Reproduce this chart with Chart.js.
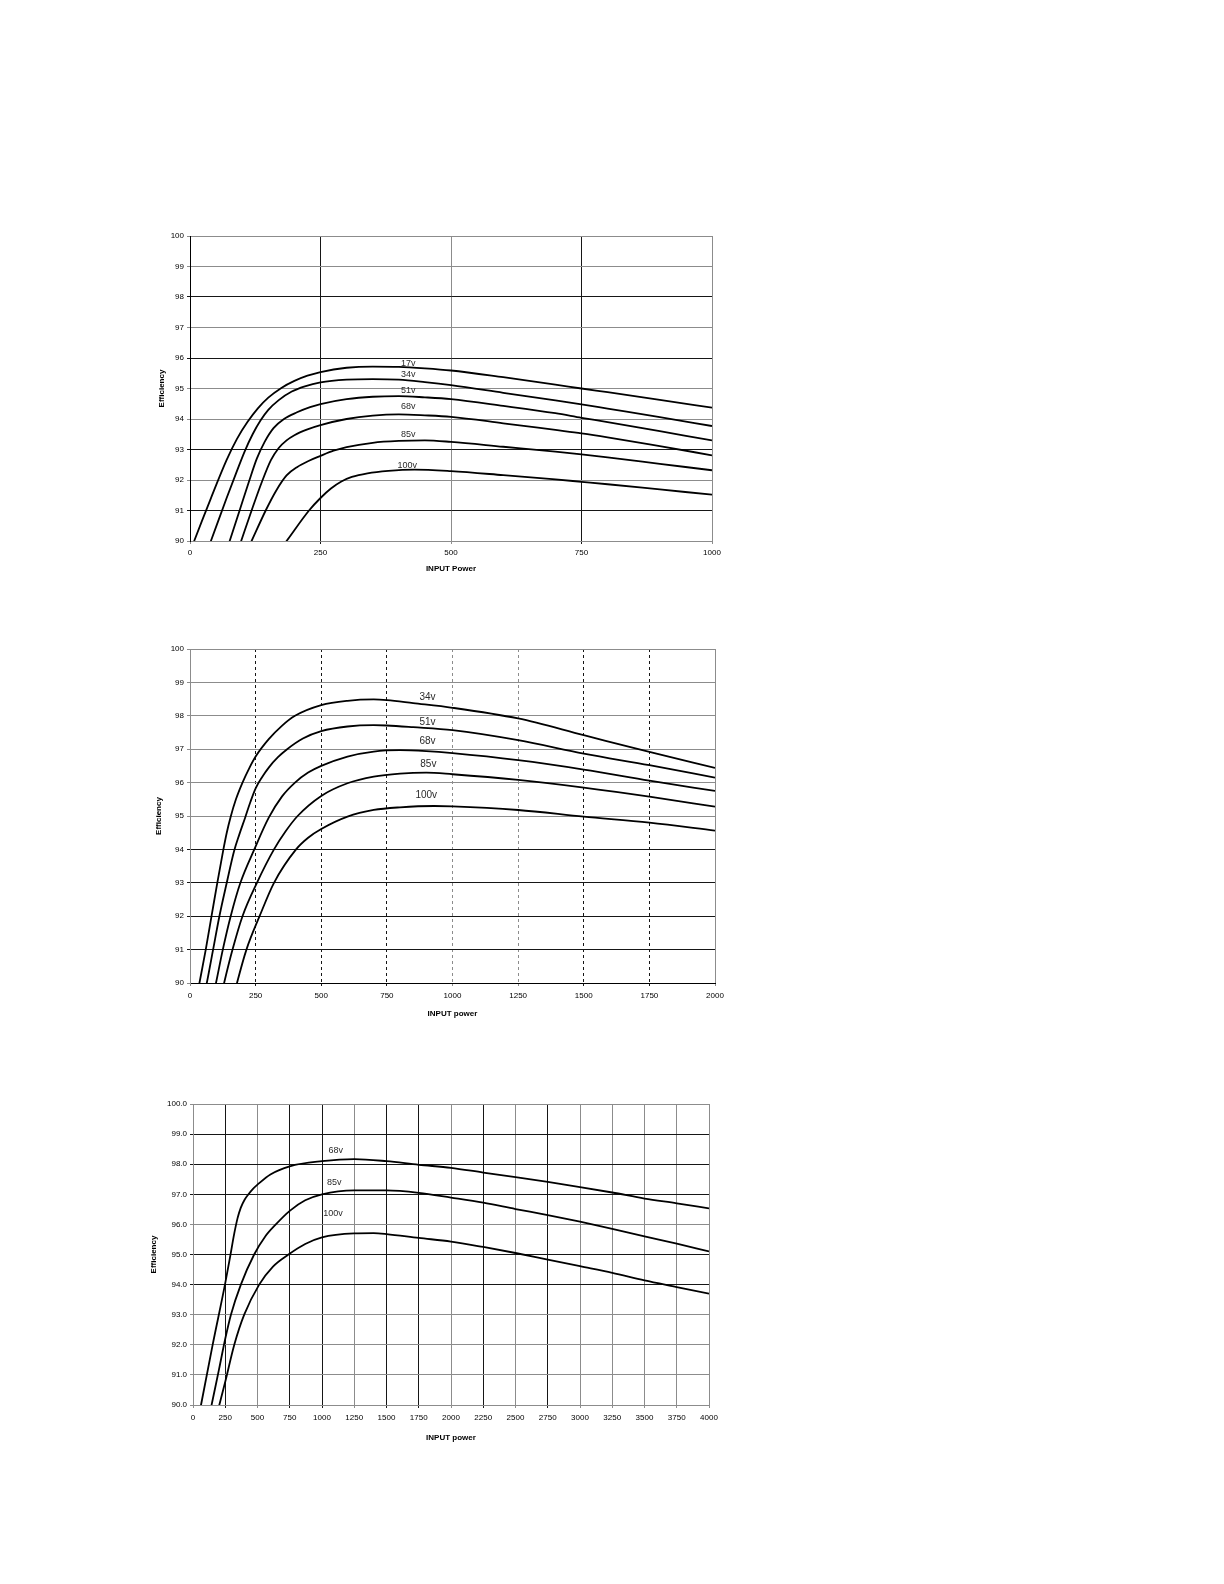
<!DOCTYPE html>
<html>
<head>
<meta charset="utf-8">
<script src="https://cdn.jsdelivr.net/npm/chart.js@4/dist/chart.umd.min.js"></script>
<style>
  body { margin: 0; background: #fff; width: 1224px; height: 1584px; position: relative; overflow: hidden; }
  canvas { position: absolute; }
</style>
</head>
<body>
<canvas id="chart1k" width="582" height="354" style="left:150px;top:220px"></canvas>
<canvas id="chart2k" width="590" height="389" style="left:145px;top:630px"></canvas>
<canvas id="chart4k" width="589" height="358" style="left:140px;top:1085px"></canvas>
<script>
// ---- 1000 W curves: [input power, efficiency] ----
const eff1k_17v = [[0,89.63],[8,90.0],[40,91.4],[70,92.65],[90,93.35],[110,93.9],[130,94.35],[150,94.7],[175,95.02],[200,95.25],[225,95.42],[250,95.54],[300,95.68],[350,95.72],[400,95.71],[450,95.66],[500,95.59],[600,95.37],[700,95.13],[750,95.0],[800,94.88],[900,94.63],[1000,94.37]];
const eff1k_34v = [[20,89.1],[40,90.0],[70,91.4],[90,92.3],[105,92.95],[120,93.5],[135,93.95],[150,94.3],[170,94.62],[195,94.9],[220,95.07],[250,95.2],[300,95.29],[350,95.31],[400,95.29],[450,95.21],[500,95.11],[600,94.86],[700,94.61],[750,94.48],[800,94.34],[900,94.06],[1000,93.77]];
const eff1k_51v = [[55,88.9],[76,90.0],[95,91.0],[113,91.95],[128,92.7],[143,93.25],[160,93.7],[180,94.0],[205,94.22],[230,94.39],[250,94.49],[300,94.65],[350,94.73],[400,94.75],[450,94.71],[500,94.65],[600,94.43],[700,94.19],[750,94.04],[800,93.9],[900,93.6],[1000,93.3]];
const eff1k_68v = [[78,89.0],[98,90.0],[118,91.0],[138,91.95],[155,92.65],[170,93.05],[185,93.3],[200,93.47],[225,93.66],[250,93.8],[300,94.0],[350,94.11],[400,94.15],[450,94.12],[500,94.07],[600,93.86],[700,93.64],[750,93.53],[800,93.4],[900,93.11],[1000,92.81]];
const eff1k_85v = [[91,89.0],[118,90.0],[145,91.0],[165,91.65],[185,92.15],[205,92.42],[228,92.63],[250,92.79],[275,92.96],[300,93.08],[350,93.22],[400,93.28],[450,93.3],[500,93.25],[600,93.09],[700,92.93],[750,92.84],[800,92.74],[900,92.53],[1000,92.32]];
const eff1k_100v = [[160,89.43],[185,90.0],[228,91.0],[250,91.41],[270,91.72],[290,91.95],[310,92.1],[340,92.22],[380,92.3],[430,92.34],[500,92.29],[600,92.16],[700,92.02],[750,91.94],[800,91.86],[900,91.69],[1000,91.52]];
const names1k = ['17v', '34v', '51v', '68v', '85v', '100v'];
const labelAt1k = [[418,95.83],[418,95.45],[418,94.95],[418,94.42],[418,93.48],[416,92.49]];

// ---- 2000 W curves ----
const eff2k_34v = [[20,89.3],[36,90.0],[60,91.0],[82,92.0],[104,93.0],[126,93.95],[140,94.5],[155,94.98],[175,95.5],[200,96.0],[225,96.42],[250,96.78],[300,97.3],[350,97.7],[400,98.0],[500,98.32],[600,98.45],[700,98.49],[750,98.47],[850,98.38],[1000,98.24],[1250,97.92],[1500,97.42],[1750,96.92],[2000,96.44]];
const eff2k_51v = [[45,89.3],[64,90.0],[88,91.0],[112,92.0],[140,93.0],[168,93.95],[188,94.45],[210,94.95],[230,95.42],[250,95.83],[275,96.17],[300,96.45],[335,96.76],[370,97.0],[430,97.32],[500,97.54],[600,97.68],[700,97.72],[750,97.71],[850,97.66],[1000,97.57],[1250,97.27],[1500,96.87],[1750,96.52],[2000,96.15]];
const eff2k_68v = [[80,89.3],[99,90.0],[125,91.0],[155,92.0],[192,93.0],[245,94.0],[300,94.95],[350,95.58],[400,96.0],[450,96.3],[500,96.5],[600,96.78],[700,96.93],[800,96.97],[900,96.94],[1000,96.88],[1250,96.67],[1500,96.39],[1750,96.06],[2000,95.75]];
const eff2k_85v = [[110,89.3],[130,90.0],[162,91.0],[200,92.0],[255,93.0],[320,94.0],[365,94.55],[410,95.0],[500,95.6],[600,95.98],[700,96.18],[800,96.27],[900,96.3],[1000,96.25],[1250,96.08],[1500,95.85],[1750,95.58],[2000,95.28]];
const eff2k_100v = [[160,89.4],[179,90.0],[215,91.0],[265,92.0],[320,93.0],[404,94.0],[450,94.35],[500,94.61],[600,94.98],[700,95.18],[800,95.26],[930,95.3],[1000,95.29],[1250,95.18],[1500,94.98],[1750,94.8],[2000,94.56]];
const names2k = ['34v', '51v', '68v', '85v', '100v'];
const labelAt2k = [[905,98.57],[905,97.8],[905,97.24],[908,96.55],[900,95.61]];

// ---- 4000 W curves ----
const eff4k_68v = [[40,89.5],[62,90.0],[150,91.95],[250,94.05],[290,94.98],[320,95.7],[345,96.2],[370,96.55],[400,96.82],[430,97.0],[465,97.18],[500,97.32],[600,97.66],[750,97.93],[1000,98.1],[1250,98.17],[1500,98.1],[1750,97.98],[2000,97.88],[2250,97.72],[2500,97.57],[2750,97.41],[3000,97.24],[3250,97.06],[3500,96.86],[3750,96.7],[4000,96.53]];
const eff4k_85v = [[120,89.5],[144,90.0],[200,91.15],[250,92.2],[294,93.0],[371,94.0],[474,95.0],[560,95.6],[642,96.0],[750,96.45],[870,96.8],[1000,97.0],[1250,97.13],[1500,97.13],[1750,97.05],[2000,96.89],[2250,96.72],[2500,96.51],[2750,96.31],[3000,96.09],[3250,95.85],[3500,95.6],[3750,95.36],[4000,95.1]];
const eff4k_100v = [[180,89.6],[204,90.0],[250,90.77],[320,92.0],[397,93.0],[513,94.0],[620,94.6],[740,95.0],[870,95.35],[1000,95.57],[1250,95.7],[1400,95.71],[1500,95.68],[1750,95.55],[2000,95.43],[2250,95.25],[2500,95.05],[2750,94.83],[3000,94.61],[3250,94.39],[3500,94.14],[3750,93.92],[4000,93.7]];
const names4k = ['68v', '85v', '100v'];
const labelAt4k = [[1106,98.45],[1095,97.38],[1085,96.35]];

// tick values and which grid lines came out dark in the scan
const effTicks = [90, 91, 92, 93, 94, 95, 96, 97, 98, 99, 100];
const power1kTicks = [0, 250, 500, 750, 1000];
const power2kTicks = [0, 250, 500, 750, 1000, 1250, 1500, 1750, 2000];
const power4kTicks = [0, 250, 500, 750, 1000, 1250, 1500, 1750, 2000, 2250, 2500, 2750, 3000, 3250, 3500, 3750, 4000];
const darkY1k = [91, 93, 96, 98];
const darkX1k = [250, 750];
const darkY2k = [91, 92, 93, 94];
const darkX2k = [250, 500, 750, 1500, 1750];
const darkY4k = [94, 95, 97, 98, 99];
const darkX4k = [250, 750, 1000, 1500, 1750, 2250, 2750];

const FONT = "'Liberation Sans', Arial, sans-serif";
const GRAY = '#8c8c8c';
const DARK = '#161616';

function gridColor(dark) {
  return c => (c.tick && dark.includes(c.tick.value)) ? DARK : GRAY;
}

function curveLabels(names, at, size, color) {
  return {
    id: 'curveLabels',
    afterDatasetsDraw(chart) {
      const { ctx, scales: { x, y } } = chart;
      ctx.save();
      ctx.font = size + 'px ' + FONT;
      ctx.fillStyle = color;
      ctx.textAlign = 'center';
      ctx.textBaseline = 'middle';
      names.forEach((n, i) => ctx.fillText(n, x.getPixelForValue(at[i][0]), y.getPixelForValue(at[i][1])));
      ctx.restore();
    }
  };
}

function makeChart(id, o) {
  const xMax = o.xTicks[o.xTicks.length - 1];
  new Chart(document.getElementById(id), {
    type: 'line',
    data: {
      datasets: o.series.map(s => ({
        data: s.map(p => ({ x: p[0], y: p[1] })),
        borderColor: '#000',
        borderWidth: 1.8,
        pointRadius: 0,
        cubicInterpolationMode: 'monotone',
        fill: false
      }))
    },
    options: {
      responsive: false,
      animation: false,
      layout: { padding: { top: o.padTop, right: 20, left: 0, bottom: 0 } },
      plugins: { legend: { display: false }, tooltip: { enabled: false } },
      scales: {
        x: {
          type: 'linear', min: 0, max: xMax,
          afterBuildTicks: s => { s.ticks = o.xTicks.map(v => ({ value: v })); },
          afterFit: s => { s.height = o.xH; },
          ticks: { font: { family: FONT, size: 8 }, color: '#000', padding: o.xPad, maxRotation: 0, autoSkip: false,
                   callback: v => String(v) },
          grid: { color: gridColor(o.darkX), tickLength: 3, lineWidth: 1 },
          border: { color: o.xBorder, dash: o.dashX ? (c => (c.tick && c.tick.value > 0 && c.tick.value < xMax) ? [3, 3] : []) : [] },
          title: { display: true, text: o.xTitle, color: '#000', font: { family: FONT, size: 8, weight: 'bold' }, padding: { top: 0, bottom: 0 } }
        },
        y: {
          type: 'linear', min: 90, max: 100,
          afterBuildTicks: s => { s.ticks = effTicks.map(v => ({ value: v })); },
          afterFit: s => { s.width = o.yW; },
          ticks: { font: { family: FONT, size: 8 }, color: '#000', padding: 3, autoSkip: false,
                   callback: v => o.oneDecimal ? v.toFixed(1) : String(v) },
          grid: { color: gridColor(o.darkY), tickLength: 3, lineWidth: 1 },
          border: { color: o.yBorder },
          title: { display: true, text: 'Efficiency', color: '#000', font: { family: FONT, size: 8, weight: 'bold' }, padding: { top: o.yTitlePad, bottom: 0 } }
        }
      }
    },
    plugins: [curveLabels(o.names, o.labelAt, o.labelSize, '#2a2a2a')]
  });
}

makeChart('chart1k', {
  series: [eff1k_17v, eff1k_34v, eff1k_51v, eff1k_68v, eff1k_85v, eff1k_100v],
  names: names1k, labelAt: labelAt1k, labelSize: 9,
  xTicks: power1kTicks, darkX: darkX1k, darkY: darkY1k,
  xTitle: 'INPUT Power', padTop: 16, xH: 33, xPad: 4, yW: 40, yTitlePad: 7,
  xBorder: GRAY, yBorder: '#000', dashX: false, oneDecimal: false
});

makeChart('chart2k', {
  series: [eff2k_34v, eff2k_51v, eff2k_68v, eff2k_85v, eff2k_100v],
  names: names2k, labelAt: labelAt2k, labelSize: 10,
  xTicks: power2kTicks, darkX: darkX2k, darkY: darkY2k,
  xTitle: 'INPUT power', padTop: 19, xH: 36, xPad: 5, yW: 45, yTitlePad: 9,
  xBorder: '#000', yBorder: GRAY, dashX: true, oneDecimal: false
});

makeChart('chart4k', {
  series: [eff4k_68v, eff4k_85v, eff4k_100v],
  names: names4k, labelAt: labelAt4k, labelSize: 9,
  xTicks: power4kTicks, darkX: darkX4k, darkY: darkY4k,
  xTitle: 'INPUT power', padTop: 19, xH: 38, xPad: 5, yW: 53, yTitlePad: 9,
  xBorder: GRAY, yBorder: GRAY, dashX: false, oneDecimal: true
});
</script>
</body>
</html>
